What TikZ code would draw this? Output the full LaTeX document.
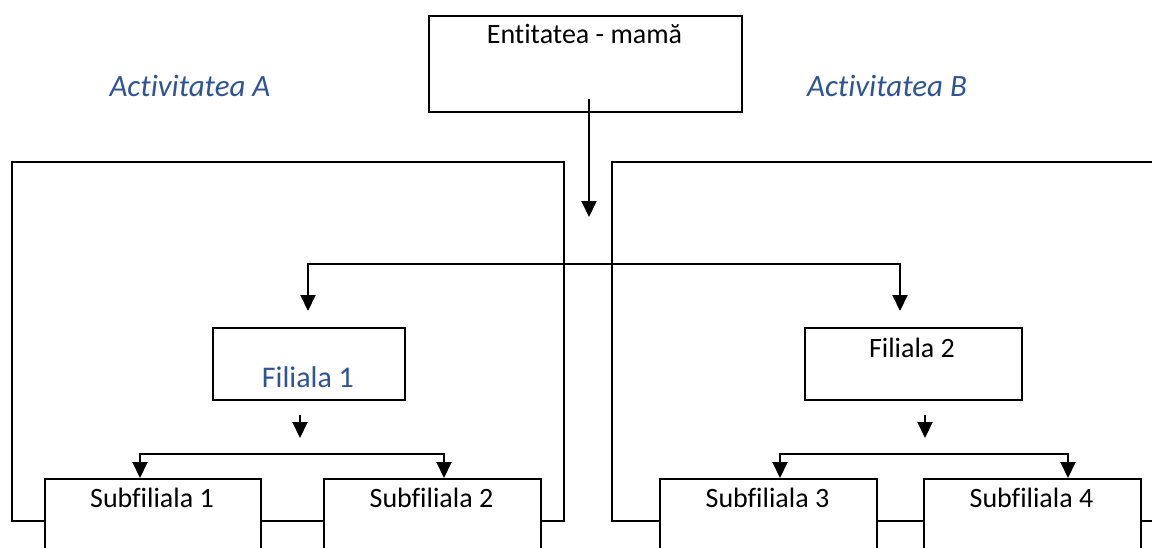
\documentclass[tikz,border=0pt]{standalone}
\usepackage{fontspec}
\setmainfont[Ligatures=NoCommon]{Carlito}
\usetikzlibrary{arrows.meta}
\definecolor{accblue}{RGB}{47,84,150}
\begin{document}
\begin{tikzpicture}[x=1pt,y=-1pt,
  box/.style={draw=black,line width=2pt,fill=white,inner sep=0pt,anchor=north west},
  frame/.style={draw=black,line width=2pt},
  arr/.style={line width=2pt,-{Triangle[width=15pt,length=16pt]}},
  lin/.style={line width=2pt},
  txt/.style={anchor=base,inner sep=0pt,font=\fontsize{28}{32}\selectfont},
  bluetxt/.style={anchor=base,inner sep=0pt,text=accblue,font=\fontsize{30}{34}\selectfont},
  acttxt/.style={anchor=base,inner sep=0pt,text=accblue,font=\itshape\fontsize{31}{36}\selectfont}]
\useasboundingbox (0,0) rectangle (1152,547);
\clip (0,0) rectangle (1152,547);
% outer frames
\draw[frame] (12,162) rectangle (564,521);
\draw[frame] (612,162) rectangle (1200,521);
% top box
\node[box,minimum width=313pt,minimum height=96pt] (mama) at (428,15) {};
\node[txt] (mamat) at (584.5,43) {Entitatea - mamă};
\node[acttxt] (acta) at (190,96) {Activitatea A};
\node[acttxt] (actb) at (887,96) {Activitatea B};
% main arrow
\coordinate (m0) at (589,99);
\coordinate (m1) at (589,217);
\draw[arr] (m0) -- (m1);
% filiale
\node[box,minimum width=192pt,minimum height=72pt] (fil1) at (212,327) {};
\node[box,minimum width=217pt,minimum height=72pt] (fil2) at (804,327) {};
\node[bluetxt] (fil1t) at (308,387) {Filiala 1};
\node[txt] (fil2t) at (912,357) {Filiala 2};
\coordinate (h1) at (308,264);
\coordinate (h2) at (900,264);
\coordinate (h1e) at (308,311);
\coordinate (h2e) at (900,311);
\draw[arr] (h2) -- (h1) -- (h1e);
\draw[arr] (h1) -- (h2) -- (h2e);
% small arrows
\coordinate (s1a) at (300,415);
\coordinate (s1b) at (300,438);
\coordinate (s2a) at (925,415);
\coordinate (s2b) at (925,438);
\draw[arr] (s1a) -- (s1b);
\draw[arr] (s2a) -- (s2b);
% sub connectors
\coordinate (l1) at (140,454);
\coordinate (l2) at (444,454);
\coordinate (l1e) at (140,478);
\coordinate (l2e) at (444,478);
\draw[arr] (l2) -- (l1) -- (l1e);
\draw[arr] (l1) -- (l2) -- (l2e);
\coordinate (r1) at (780,454);
\coordinate (r2) at (1068,454);
\coordinate (r1e) at (780,478);
\coordinate (r2e) at (1068,478);
\draw[arr] (r2) -- (r1) -- (r1e);
\draw[arr] (r1) -- (r2) -- (r2e);
% subfiliale
\node[box,minimum width=216pt,minimum height=100pt] (sub1) at (44,478) {};
\node[box,minimum width=217pt,minimum height=100pt] (sub2) at (323,478) {};
\node[box,minimum width=217pt,minimum height=100pt] (sub3) at (659,478) {};
\node[box,minimum width=217pt,minimum height=100pt] (sub4) at (923,478) {};
\node[txt] (sub1t) at (152,507) {Subfiliala 1};
\node[txt] (sub2t) at (431.5,507) {Subfiliala 2};
\node[txt] (sub3t) at (767.5,507) {Subfiliala 3};
\node[txt] (sub4t) at (1031.5,507) {Subfiliala 4};
\end{tikzpicture}
\end{document}
